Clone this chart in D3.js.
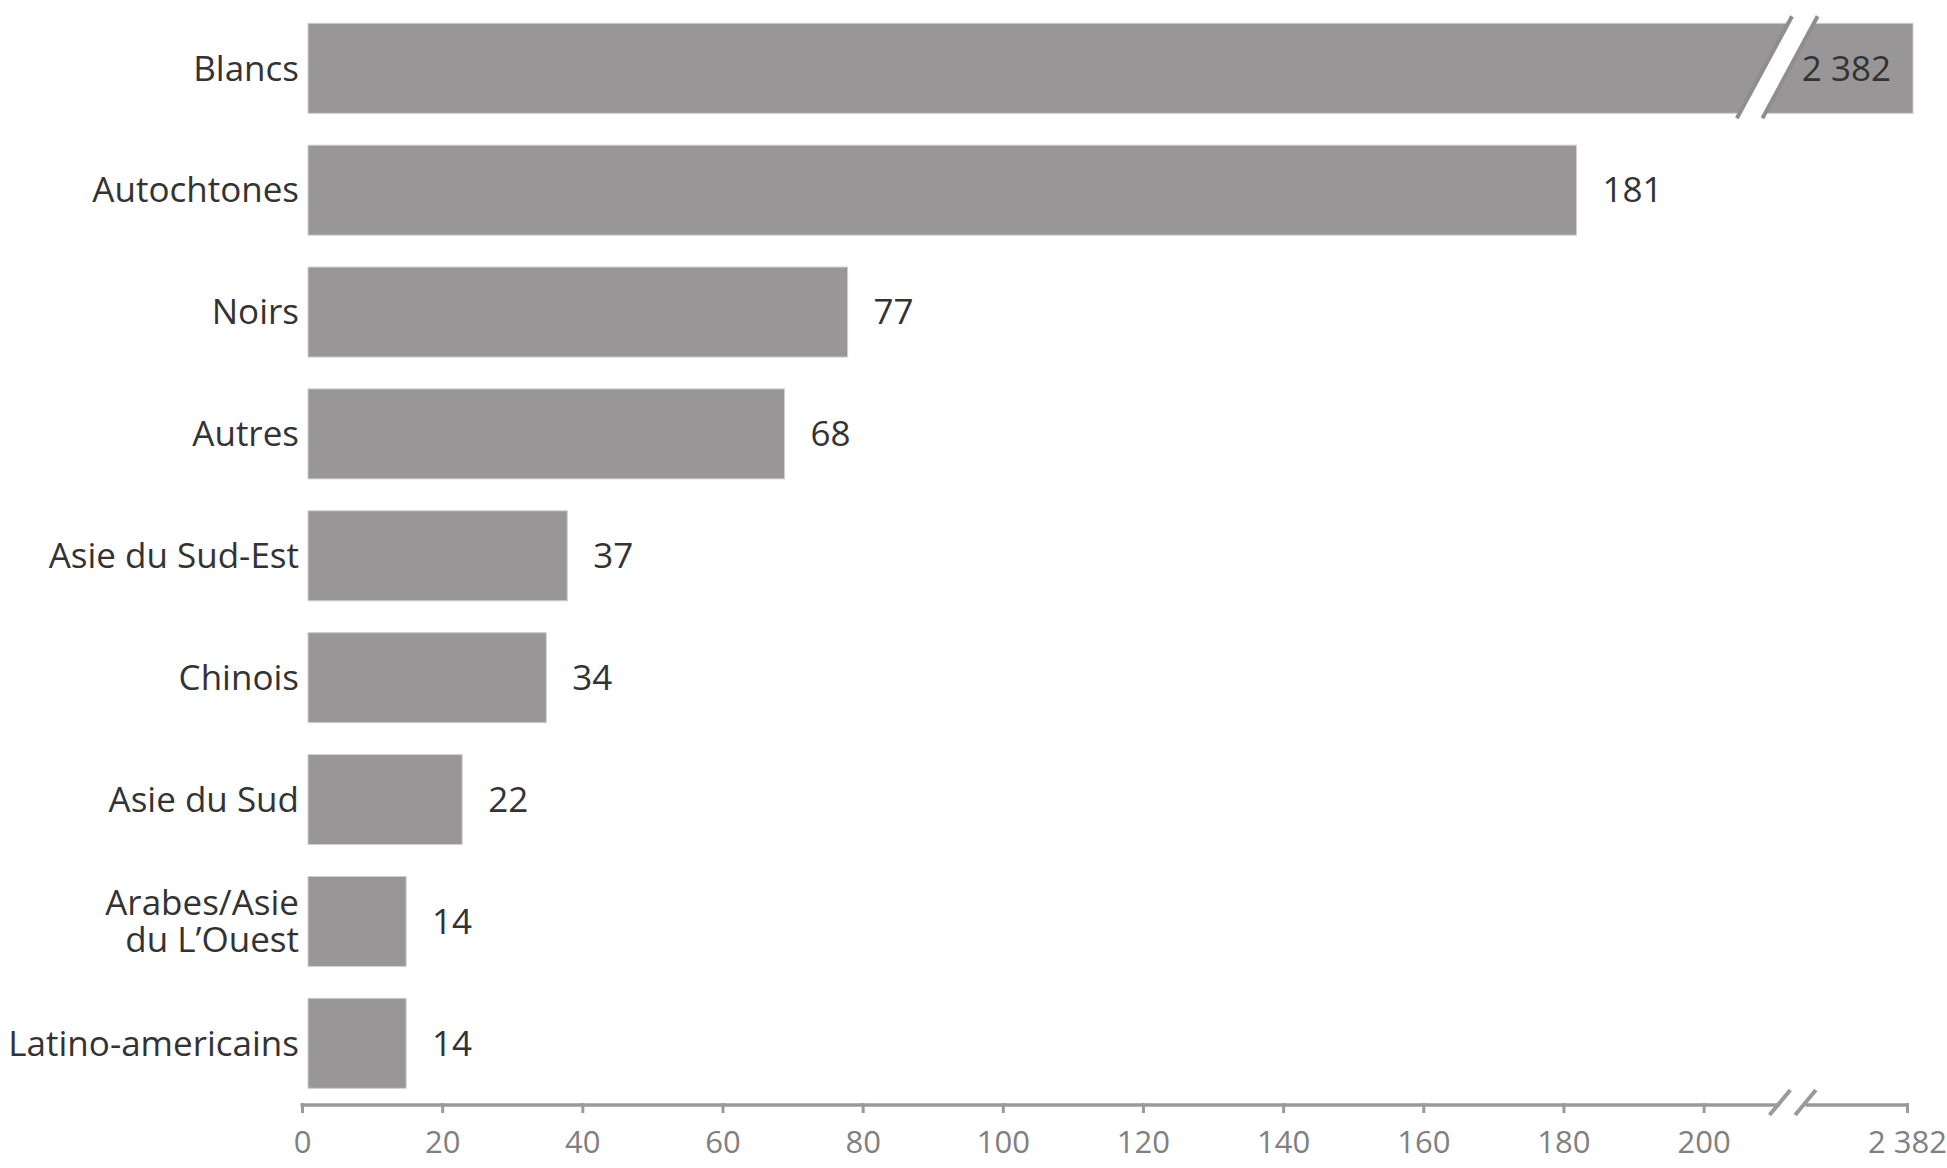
<!DOCTYPE html>
<html>
<head>
<meta charset="utf-8">
<script src="https://cdn.jsdelivr.net/npm/d3@7/dist/d3.min.js"></script>
<style>
  html, body { margin: 0; padding: 0; background: #ffffff; }
  svg { display: block; }
  text { font-family: "Open Sans", "Noto Sans", sans-serif; }
</style>
</head>
<body>
<svg id="chart" width="1947" height="1168"></svg>
<script>
// ---- data ----
const categories = ["Blancs", "Autochtones", "Noirs", "Autres", "Asie du Sud-Est", "Chinois", "Asie du Sud", "Arabes/Asie\ndu L’Ouest", "Latino-americains"];
const values = [2382, 181, 77, 68, 37, 34, 22, 14, 14];
const tickValues = [0, 20, 40, 60, 80, 100, 120, 140, 160, 180, 200, 2382];
const tickLabels = ["0", "20", "40", "60", "80", "100", "120", "140", "160", "180", "200", "2 382"];
const valueLabels = ["2 382", "181", "77", "68", "37", "34", "22", "14", "14"];
const breakValue = 213;

// ---- layout ----
const W = 1947, H = 1168;
const x0 = 302, pxPerUnit = 7.008, xEnd = 1907;
const axisY = 1105;
const barShift = 6;
const labelRight = 299, labelMinLeft = 3;

const svg = d3.select("#chart");

const x = d3.scaleLinear()
  .domain([0, breakValue, values[0]])
  .range([x0, x0 + breakValue * pxPerUnit, xEnd]);

const y = d3.scaleBand()
  .domain(categories)
  .range([23.3, 1088.3])
  .paddingInner(0.2617)
  .paddingOuter(0);

const data = categories.map((c, i) => ({ cat: c, value: values[i], label: valueLabels[i], i }));

// bars
svg.append("g").selectAll("rect")
  .data(data)
  .join("rect")
  .attr("x", x(0) + barShift)
  .attr("y", d => y(d.cat))
  .attr("width", d => x(d.value) - x(0))
  .attr("height", y.bandwidth())
  .attr("fill", "#989697")
  .attr("stroke", "#cfcfcf")
  .attr("stroke-width", 1);

// bar break on the largest bar
const bb = data[0];
const bTop = y(bb.cat) - 7, bBot = y(bb.cat) + y.bandwidth() + 5;
const bMid = y(bb.cat) + y.bandwidth() / 2;
const bCx = x(breakValue) - 18;
const half = 12.8, slope = 0.541;
const lx = (yy, side) => bCx + side * half + slope * (bMid - yy);
svg.append("path")
  .attr("d", `M${lx(bTop, -1)},${bTop} L${lx(bTop, 1)},${bTop} L${lx(bBot, 1)},${bBot} L${lx(bBot, -1)},${bBot} Z`)
  .attr("fill", "#ffffff");
[-1, 1].forEach(s => {
  svg.append("line")
    .attr("x1", lx(bTop, s)).attr("y1", bTop)
    .attr("x2", lx(bBot, s)).attr("y2", bBot)
    .attr("stroke", "#8e8e8e").attr("stroke-width", 4);
});

// value labels
svg.append("g").selectAll("text")
  .data(data)
  .join("text")
  .attr("x", d => d.i === 0 ? x(d.value) + barShift - 22 : x(d.value) + barShift + 26)
  .attr("y", d => y(d.cat) + y.bandwidth() / 2)
  .attr("dy", "0.35em")
  .attr("text-anchor", d => d.i === 0 ? "end" : "start")
  .attr("font-size", 35)
  .attr("fill", "#333333")
  .text(d => d.label);

// category labels
const catG = svg.append("g");
data.forEach(d => {
  const lines = d.cat.split("\n");
  const lh = 37;
  const cy = y(d.cat) + y.bandwidth() / 2;
  const t = catG.append("text")
    .attr("text-anchor", "end")
    .attr("font-size", 35)
    .attr("fill", "#333333");
  const spans = lines.map((ln, k) => t.append("tspan")
      .attr("x", labelRight)
      .attr("y", cy + (k - (lines.length - 1) / 2) * lh)
      .attr("dy", "0.35em")
      .text(ln));
  // keep long labels inside the left edge
  const w = t.node().getBBox().width;
  if (labelRight - w < labelMinLeft) {
    t.attr("text-anchor", "start");
    spans.forEach(s => s.attr("x", labelMinLeft));
  }
});

// x axis
const axis = d3.axisBottom(x)
  .tickValues(tickValues)
  .tickFormat((d, i) => tickLabels[i])
  .tickSize(8)
  .tickSizeOuter(0)
  .tickPadding(18);

const ag = svg.append("g")
  .attr("transform", `translate(0,${axisY})`)
  .call(axis);
ag.select(".domain").remove();
ag.selectAll(".tick line")
  .attr("stroke", "#9a9a9a")
  .attr("stroke-width", 3)
  .attr("y1", -2);
ag.selectAll(".tick text")
  .attr("font-size", 31)
  .attr("fill", "#808080")
  .attr("font-family", "\"Open Sans\", \"Noto Sans\", sans-serif");

// axis line with break
const aCx = x(breakValue) - 2;
const aHalf = 12.8, aSlope = 0.83;
svg.append("line")
  .attr("x1", x(0) - 1.5).attr("x2", aCx - aHalf)
  .attr("y1", axisY).attr("y2", axisY)
  .attr("stroke", "#9a9a9a").attr("stroke-width", 3.5);
svg.append("line")
  .attr("x1", aCx + aHalf).attr("x2", x(values[0]) + 1.5)
  .attr("y1", axisY).attr("y2", axisY)
  .attr("stroke", "#9a9a9a").attr("stroke-width", 3.5);
[-1, 1].forEach(s => {
  const cx = aCx + s * aHalf;
  svg.append("line")
    .attr("x1", cx - aSlope * 12.5).attr("y1", axisY + 10)
    .attr("x2", cx + aSlope * 12.5).attr("y2", axisY - 15)
    .attr("stroke", "#9a9a9a").attr("stroke-width", 4);
});
</script>
</body>
</html>
